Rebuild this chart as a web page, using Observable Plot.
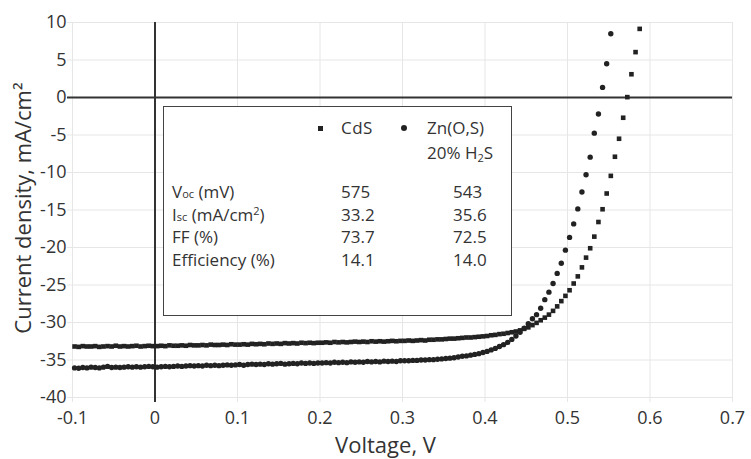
<!DOCTYPE html>
<html>
<head>
<meta charset="utf-8">
<script src="https://cdn.jsdelivr.net/npm/d3@7"></script>
<script src="https://cdn.jsdelivr.net/npm/@observablehq/plot@0.6"></script>
<style>
  html, body { margin: 0; padding: 0; background: #fff; }
  #wrap { position: relative; width: 751px; height: 459px; font-family: "Open Sans", sans-serif; color: #333; }
  #legend { position: absolute; left: 163px; top: 106px; width: 347px; height: 208px; border: 1.5px solid #444; background: #fff; font-size: 17px; line-height: 22px; }
  #legend .t { position: absolute; white-space: nowrap; }
  #legend .sq { position: absolute; width: 5px; height: 5px; background: #222; }
  #legend .ci { position: absolute; width: 6px; height: 6px; border-radius: 50%; background: #222; }
  #legend small { font-size: 11px; }
  #legend sup { font-size: 11px; vertical-align: 6px; line-height: 0; }
  #legend sub { font-size: 11px; vertical-align: -3px; line-height: 0; }
</style>
</head>
<body>
<div id="wrap"></div>
<script>
// ---- data ----
const voltage = [
  -0.0975,-0.0925,-0.0875,-0.0825,-0.0775,-0.0725,-0.0675,-0.0625,-0.0575,-0.0525,
  -0.0475,-0.0425,-0.0375,-0.0325,-0.0275,-0.0225,-0.0175,-0.0125,-0.0075,-0.0025,
  0.0025,0.0075,0.0125,0.0175,0.0225,0.0275,0.0325,0.0375,0.0425,0.0475,
  0.0525,0.0575,0.0625,0.0675,0.0725,0.0775,0.0825,0.0875,0.0925,0.0975,
  0.1025,0.1075,0.1125,0.1175,0.1225,0.1275,0.1325,0.1375,0.1425,0.1475,
  0.1525,0.1575,0.1625,0.1675,0.1725,0.1775,0.1825,0.1875,0.1925,0.1975,
  0.2025,0.2075,0.2125,0.2175,0.2225,0.2275,0.2325,0.2375,0.2425,0.2475,
  0.2525,0.2575,0.2625,0.2675,0.2725,0.2775,0.2825,0.2875,0.2925,0.2975,
  0.3025,0.3075,0.3125,0.3175,0.3225,0.3275,0.3325,0.3375,0.3425,0.3475,
  0.3525,0.3575,0.3625,0.3675,0.3725,0.3775,0.3825,0.3875,0.3925,0.3975,
  0.4025,0.4075,0.4125,0.4175,0.4225,0.4275,0.4325,0.4375,0.4425,0.4475,
  0.4525,0.4575,0.4625,0.4675,0.4725,0.4775,0.4825,0.4875,0.4925,0.4975,
  0.5025,0.5075,0.5125,0.5175,0.5225,0.5275,0.5325,0.5375,0.5425,0.5475,
  0.5525,0.5575,0.5625,0.5675,0.5725,0.5775,0.5825,0.5875
];
const cdsCurrent = [
  -33.2,-33.25,-33.15,-33.2,-33.2,-33.15,-33.25,-33.2,-33.15,-33.2,
  -33.1,-33.2,-33.15,-33.2,-33.15,-33.1,-33.2,-33.15,-33.1,-33.15,
  -33.15,-33.1,-33.15,-33.05,-33.1,-33.1,-33.05,-33.1,-33.0,-33.05,
  -33.05,-33.0,-33.05,-32.95,-33.0,-33.0,-32.95,-33.0,-32.9,-32.95,
  -32.95,-32.9,-32.95,-32.85,-32.9,-32.85,-32.9,-32.8,-32.85,-32.8,
  -32.85,-32.75,-32.8,-32.75,-32.8,-32.7,-32.75,-32.7,-32.75,-32.7,
  -32.7,-32.65,-32.7,-32.6,-32.65,-32.6,-32.65,-32.6,-32.55,-32.6,
  -32.55,-32.6,-32.5,-32.55,-32.5,-32.55,-32.5,-32.45,-32.5,-32.45,
  -32.45,-32.4,-32.45,-32.4,-32.35,-32.4,-32.3,-32.3,-32.25,-32.25,
  -32.2,-32.15,-32.15,-32.1,-32.05,-32.0,-32.0,-31.95,-31.9,-31.85,
  -31.8,-31.7,-31.65,-31.55,-31.5,-31.4,-31.3,-31.2,-31.05,-30.85,
  -30.65,-30.35,-30.05,-29.7,-29.35,-28.95,-28.45,-27.85,-27.15,-26.45,
  -25.7,-24.8,-23.85,-22.65,-21.35,-20.1,-18.55,-16.6,-14.9,-12.8,
  -10.45,-7.9,-5.5,-2.7,0.05,3.1,6.05,9.15
];
const znCurrent = [
  -36.05,-36.1,-36.0,-36.05,-35.95,-36.0,-36.05,-35.95,-35.85,-36.0,
  -35.95,-36.0,-35.95,-35.9,-35.95,-35.9,-35.95,-35.9,-35.85,-35.9,
  -35.95,-35.9,-35.85,-35.9,-35.85,-35.8,-35.85,-35.8,-35.75,-35.8,
  -35.75,-35.8,-35.7,-35.75,-35.7,-35.75,-35.7,-35.65,-35.7,-35.65,
  -35.6,-35.7,-35.6,-35.55,-35.6,-35.55,-35.6,-35.5,-35.55,-35.5,
  -35.45,-35.55,-35.5,-35.45,-35.5,-35.4,-35.45,-35.4,-35.45,-35.4,
  -35.4,-35.35,-35.4,-35.3,-35.35,-35.3,-35.35,-35.25,-35.3,-35.25,
  -35.3,-35.2,-35.25,-35.2,-35.25,-35.15,-35.2,-35.15,-35.2,-35.1,
  -35.1,-35.1,-35.05,-35.05,-35.0,-35.0,-34.95,-34.95,-34.9,-34.85,
  -34.8,-34.75,-34.7,-34.6,-34.5,-34.45,-34.35,-34.25,-34.15,-34.0,
  -33.85,-33.65,-33.45,-33.2,-32.95,-32.65,-32.25,-31.8,-31.3,-30.75,
  -30.15,-29.5,-28.95,-28.1,-26.95,-25.95,-24.8,-23.45,-22.1,-20.35,
  -18.65,-16.85,-14.85,-12.6,-10.3,-7.95,-4.75,-2.2,1.35,4.5,
  8.5
];
const xTicks = [-0.1, 0, 0.1, 0.2, 0.3, 0.4, 0.5, 0.6, 0.7];
const xTickLabels = ["-0.1", "0", "0.1", "0.2", "0.3", "0.4", "0.5", "0.6", "0.7"];
const yTicks = [-40, -35, -30, -25, -20, -15, -10, -5, 0, 5, 10];
const yTickLabels = ["-40", "-35", "-30", "-25", "-20", "-15", "-10", "-5", "0", "5", "10"];
const xTitle = "Voltage, V";
const yTitle = "Current density, mA/cm\u00B2";
const seriesNames = ["CdS", "Zn(O,S)", "20% H<sub>2</sub>S"];
const statLabels = ["V<small>oc</small> (mV)", "I<small>sc</small> (mA/cm<sup>2</sup>)", "FF (%)", "Efficiency (%)"];
const cdsStats = ["575", "33.2", "73.7", "14.1"];
const znStats = ["543", "35.6", "72.5", "14.0"];

// ---- build ----
const cds = cdsCurrent.map((j, i) => ({v: voltage[i], j}));
const zn = znCurrent.map((j, i) => ({v: voltage[i], j}));

const grid = "#e6e6e6";
const chart = Plot.plot({
  width: 751,
  height: 459,
  marginLeft: 72,
  marginRight: 19,
  marginTop: 22,
  marginBottom: 62,
  style: {fontFamily: "Open Sans, sans-serif", fontSize: "18px", color: "#333", background: "#fff"},
  x: {domain: [-0.1, 0.7]},
  y: {domain: [-40, 10]},
  marks: [
    Plot.gridX(xTicks, {stroke: grid, strokeOpacity: 1}),
    Plot.gridY(yTicks, {stroke: grid, strokeOpacity: 1}),
    Plot.axisX(xTicks, {tickFormat: (d, i) => xTickLabels[i], tickSize: 5, tickPadding: 9, stroke: grid, label: null, fontSize: 18}),
    Plot.axisY(yTicks, {tickFormat: (d, i) => yTickLabels[i], tickSize: 5, tickPadding: 1, stroke: grid, label: null, fontSize: 18}),
    Plot.ruleX([0], {stroke: "#333", strokeWidth: 2, insetBottom: -5}),
    Plot.ruleY([0], {stroke: "#333", strokeWidth: 2, insetLeft: -5}),
    Plot.dot(cds, {x: "v", y: "j", symbol: "square", r: 2.6, fill: "#222", stroke: "none"}),
    Plot.dot(zn, {x: "v", y: "j", symbol: "circle", r: 2.7, fill: "#222", stroke: "none"}),
    Plot.text([xTitle], {frameAnchor: "bottom", dx: -17, dy: 48, fontSize: 22, fill: "#333", lineAnchor: "middle", textAnchor: "middle"}),
    Plot.text([yTitle], {frameAnchor: "left", rotate: -90, dx: -49, dy: -2, fontSize: 22, fill: "#333", lineAnchor: "middle", textAnchor: "middle"})
  ]
});

const wrap = document.getElementById("wrap");
wrap.appendChild(chart);

// legend box (HTML overlay)
const lg = document.createElement("div");
lg.id = "legend";
let html = "";
html += `<div class="sq" style="left:154px;top:19px"></div>`;
html += `<div class="t" style="left:177px;top:10px;letter-spacing:0.5px">${seriesNames[0]}</div>`;
html += `<div class="ci" style="left:237px;top:18px"></div>`;
html += `<div class="t" style="left:263px;top:10px">${seriesNames[1]}</div>`;
html += `<div class="t" style="left:263px;top:35px">${seriesNames[2]}</div>`;
const rowTops = [74, 97, 119, 142];
statLabels.forEach((s, i) => {
  html += `<div class="t" style="left:8px;top:${rowTops[i]}px">${s}</div>`;
  html += `<div class="t" style="left:177px;top:${rowTops[i]}px">${cdsStats[i]}</div>`;
  html += `<div class="t" style="left:289px;top:${rowTops[i]}px">${znStats[i]}</div>`;
});
lg.innerHTML = html;
wrap.appendChild(lg);
</script>
</body>
</html>
